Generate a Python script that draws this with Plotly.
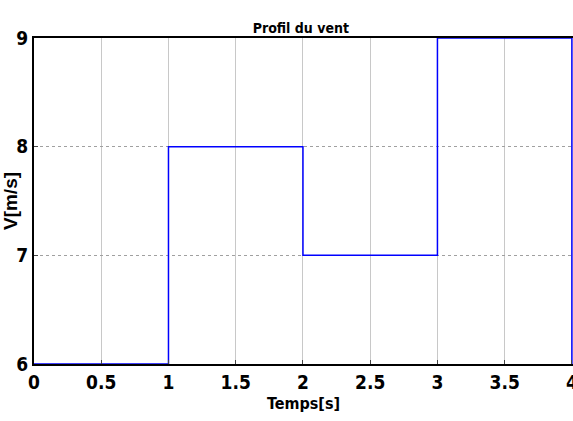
import plotly.graph_objects as go

# Data
time_s = [0, 1, 2, 3, 4]
wind_ms = [6, 8, 7, 9, 6]
x_ticks = [0, 0.5, 1, 1.5, 2, 2.5, 3, 3.5, 4]
x_tick_labels = ["0", "0.5", "1", "1.5", "2", "2.5", "3", "3.5", "4"]
y_ticks = [6, 7, 8, 9]
y_tick_labels = ["6", "7", "8", "9"]

FONT = "DejaVu Sans Condensed, Liberation Sans Narrow, Arial Narrow, sans-serif"

fig = go.Figure()
fig.add_trace(go.Scatter(
    x=time_s, y=wind_ms, mode="lines", line_shape="hv",
    line=dict(color="#0000ff", width=1.5), showlegend=False,
))

fig.update_layout(
    width=573, height=421,
    margin=dict(l=34, r=0, t=38, b=57, autoexpand=False),
    paper_bgcolor="white", plot_bgcolor="white",
    title=dict(text="<b>Profil du vent</b>", x=0.525, xanchor="center",
               y=1 - 28 / 421, yanchor="middle",
               font=dict(family=FONT, size=14, color="black")),
    font=dict(family=FONT, color="black"),
)
fig.update_xaxes(
    range=[0, 4.008], tickvals=x_ticks, ticktext=[f"<b>{t}</b>" for t in x_tick_labels],
    tickfont=dict(family=FONT, size=19, color="black"),
    ticklabeloverflow="allow", automargin=False,
    showgrid=True, gridcolor="#c8c8c8", gridwidth=1,
    showline=True, linecolor="black", linewidth=2, mirror=True,
    ticks="inside", ticklen=4, tickcolor="#444", zeroline=False,
    title=dict(text="<b>Temps[s]</b>", font=dict(family=FONT, size=16, color="black"), standoff=6),
)
fig.update_yaxes(
    range=[6, 9], tickvals=y_ticks, ticktext=[f"<b>{t}</b>" for t in y_tick_labels],
    tickfont=dict(family=FONT, size=19, color="black"),
    ticklabeloverflow="allow", automargin=False,
    showgrid=True, gridcolor="#a0a0a0", gridwidth=1, griddash="dot",
    showline=True, linecolor="black", linewidth=2, mirror=False,
    ticks="inside", ticklen=4, tickcolor="#444", zeroline=False,
    title=dict(text="<b>V[m/s]</b>", font=dict(family="Liberation Sans, Arial, sans-serif", size=19, color="black"), standoff=2),
)

fig.write_html("out.html")
